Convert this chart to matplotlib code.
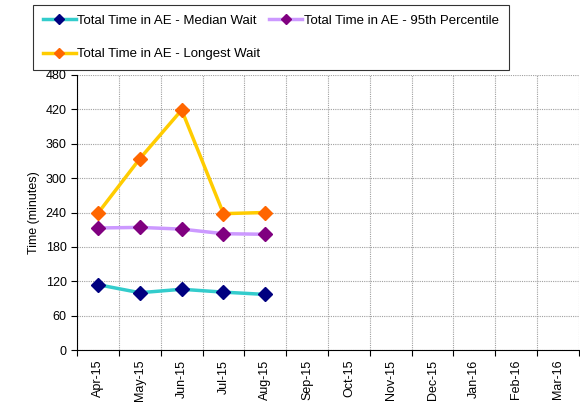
import matplotlib
matplotlib.use("Agg")
import matplotlib.pyplot as plt
from matplotlib.ticker import FixedLocator, NullFormatter

months = ["Apr-15", "May-15", "Jun-15", "Jul-15", "Aug-15", "Sep-15",
          "Oct-15", "Nov-15", "Dec-15", "Jan-16", "Feb-16", "Mar-16"]
median_wait = [114, 100, 106, 101, 97]
pct95_wait = [213, 214, 211, 203, 202]
longest_wait = [239, 334, 419, 238, 240]

plt.rcParams['font.family'] = ['Liberation Sans', 'DejaVu Sans']

fig = plt.figure(figsize=(5.8, 4.03), dpi=100)
ax = fig.add_axes([0.133, 0.1315, 0.865, 0.6824])

x = list(range(len(median_wait)))
l1, = ax.plot(x, median_wait, color='#33CCCC', lw=2.5, marker='D', ms=7,
              mfc='#000080', mec='#000080', label='Total Time in AE - Median Wait')
l2, = ax.plot(x, pct95_wait, color='#CC99FF', lw=2.5, marker='D', ms=7,
              mfc='#800080', mec='#800080', label='Total Time in AE - 95th Percentile')
l3, = ax.plot(x, longest_wait, color='#FFCC00', lw=2.5, marker='D', ms=7,
              mfc='#FF6600', mec='#FF6600', label='Total Time in AE - Longest Wait')

ax.set_xlim(-0.5, len(months) - 0.5)
ax.set_ylim(0, 480)
ax.set_yticks(range(0, 481, 60))

# boundaries carry the ticks and grid, centres carry the labels
ax.xaxis.set_major_locator(FixedLocator([i - 0.5 for i in range(len(months) + 1)]))
ax.xaxis.set_major_formatter(NullFormatter())
ax.xaxis.set_minor_locator(FixedLocator(range(len(months))))
ax.set_xticklabels(months, minor=True, rotation=90)
ax.tick_params(axis='x', which='minor', length=0, labelsize=9, pad=7)
ax.tick_params(axis='x', which='major', direction='out', length=4)
ax.tick_params(axis='y', direction='out', length=4, labelsize=9)

ax.grid(True, which='major', color='#a0a0a0', ls=(0, (1, 1)), lw=0.8)
ax.spines['top'].set_visible(False)
ax.spines['right'].set_visible(False)
ax.set_ylabel("Time (minutes)", fontsize=9)

# legend fills by column, so order the handles to read row-wise like the original
handles = [l1, l3, l2]
leg = fig.legend(handles, [h.get_label() for h in handles],
                 loc='upper left', bbox_to_anchor=(0.057, 0.826, 0.82, 0.162),
                 mode='expand', ncol=2, fontsize=9.5, frameon=True, fancybox=False,
                 edgecolor='black', handlelength=2.5, handletextpad=0.1,
                 borderaxespad=0, labelspacing=1.6, markerscale=0.8,
                 borderpad=0.75)
leg.get_frame().set_linewidth(0.8)

fig.savefig("out.png", dpi=100)
